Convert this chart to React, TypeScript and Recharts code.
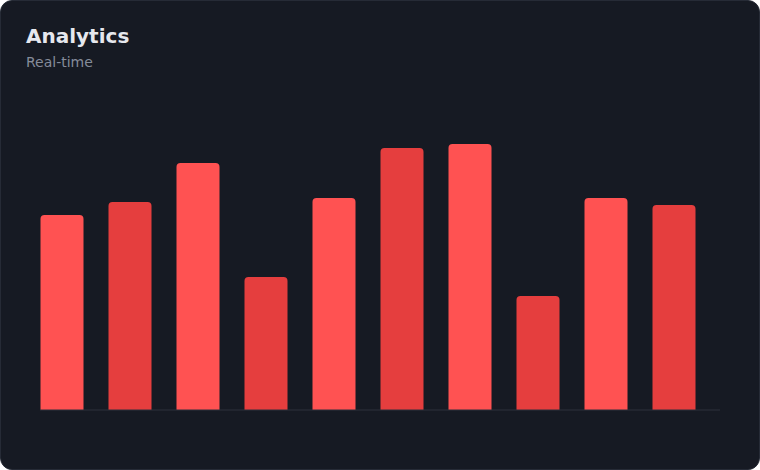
import React from 'react';
import { BarChart, Bar, XAxis, YAxis, Cell } from 'recharts';

const categories = ['1', '2', '3', '4', '5', '6', '7', '8', '9', '10'];
const values = [69.6, 74.3, 88.2, 47.5, 75.7, 93.6, 95, 40.7, 75.7, 73.2];
const barColors = ['#ff5252', '#e53e3e'];

const data = categories.map((name, i) => ({ name, value: values[i] }));

export default function App() {
  return (
    <div
      style={{
        position: 'fixed',
        top: 0,
        left: 0,
        width: 760,
        height: 470,
        boxSizing: 'border-box',
        background: '#161a23',
        border: '1px solid #262b36',
        borderRadius: 12,
        overflow: 'hidden',
        fontFamily: '"DejaVu Sans", sans-serif',
      }}
    >
      <div
        style={{
          position: 'absolute',
          left: 25,
          top: 23,
          fontSize: 20,
          fontWeight: 700,
          color: '#e6e8ee',
          lineHeight: '24px',
        }}
      >
        Analytics
      </div>
      <div
        style={{
          position: 'absolute',
          left: 25,
          top: 52,
          fontSize: 14,
          color: '#858c9a',
          lineHeight: '18px',
        }}
      >
        Real-time
      </div>
      <div style={{ position: 'absolute', left: -1, top: -1 }}>
        <BarChart
          width={760}
          height={470}
          data={data}
          margin={{ top: 130, right: 40, bottom: 59, left: 40 }}
          barSize={43}
        >
          <XAxis
            dataKey="name"
            tick={false}
            tickLine={false}
            axisLine={{ stroke: '#2c313c', strokeWidth: 1 }}
            height={1}
            padding={{ left: -12.5, right: 12.5 }}
          />
          <YAxis hide domain={[0, 100]} />
          <Bar dataKey="value" radius={[4, 4, 0, 0]} isAnimationActive={false}>
            {data.map((d, i) => (
              <Cell key={d.name} fill={barColors[i % 2]} />
            ))}
          </Bar>
        </BarChart>
      </div>
    </div>
  );
}
